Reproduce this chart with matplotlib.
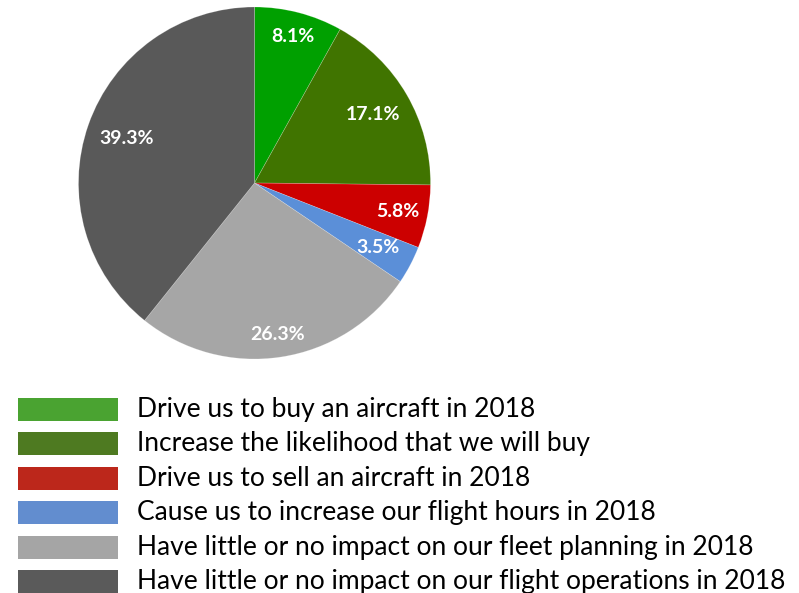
import numpy as np
import matplotlib
matplotlib.use("Agg")
import matplotlib.pyplot as plt
from matplotlib.patches import Rectangle

labels = [
    "Drive us to buy an aircraft in 2018",
    "Increase the likelihood that we will buy",
    "Drive us to sell an aircraft in 2018",
    "Cause us to increase our flight hours in 2018",
    "Have little or no impact on our fleet planning in 2018",
    "Have little or no impact on our flight operations in 2018",
]
values = [8.1, 17.1, 5.8, 3.5, 26.3, 39.3]
pie_colors = ["#00A000", "#407400", "#CC0000", "#5B8FD8", "#A6A6A6", "#595959"]
legend_colors = ["#4AA331", "#4E7A21", "#BC271B", "#628DCF", "#A5A5A5", "#5A5A5A"]
label_dist = [0.86, 0.78, 0.83, 0.79, 0.87, 0.77]

W, H = 799, 593
fig = plt.figure(figsize=(W / 100, H / 100), dpi=100)
fig.patch.set_facecolor("white")

cx, cy, r = 254.5, 183, 176
ax = fig.add_axes([(cx - r) / W, (H - cy - r) / H, 2 * r / W, 2 * r / H])
wedges, _ = ax.pie(values, colors=pie_colors, startangle=90, counterclock=False,
                   radius=1.0, wedgeprops=dict(linewidth=0.5, edgecolor="#FFFFFF40"))
ax.set_xlim(-1, 1)
ax.set_ylim(-1, 1)
ax.set_aspect("equal")
ax.axis("off")

total = sum(values)
cum = 0
for v, d in zip(values, label_dist):
    mid = 90 - (cum + v / 2) / total * 360
    cum += v
    a = np.deg2rad(mid)
    ax.text(d * np.cos(a), d * np.sin(a), f"{v:.1f}%", ha="center", va="center",
            color="white", fontsize=14, fontweight="bold", family="Lato")

row0 = 409
step = 34.5
for i, (lab, c) in enumerate(zip(labels, legend_colors)):
    yc = row0 + i * step
    fig.patches.append(Rectangle((18 / W, (H - yc - 11.5) / H), 100 / W, 23 / H,
                                 transform=fig.transFigure, facecolor=c, edgecolor="none"))
    fig.text(137 / W, (H - yc) / H, lab, ha="left", va="center", fontsize=19,
             family="Lato", color="black")

fig.savefig("out.png", dpi=100)
